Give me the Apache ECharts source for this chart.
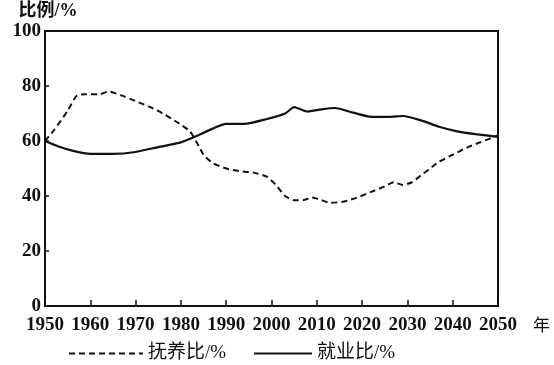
<!DOCTYPE html>
<html>
<head>
<meta charset="utf-8">
<script src="https://cdn.jsdelivr.net/npm/echarts@6/dist/echarts.min.js"></script>
<style>html,body{margin:0;padding:0;background:#fff}#c{width:554px;height:365px}</style>
</head>
<body>
<div id="c"></div>
<script>
// 抚养比/% (dashed)
const depYears = [1950,1952,1955,1957,1959,1962,1964,1967,1970,1973,1976,1979,1982,1984,1985,1987,1990,1993,1996,1999,2001,2003,2005,2007,2009,2011,2013,2016,2019,2022,2025,2027,2029,2031,2033,2035,2037,2040,2043,2046,2050];
const depValues = [60,64,71,76.5,77,77,78,76.5,74.5,72.5,70,67,63.5,58,55,52,50,49,48.5,47,44,40,38.5,38.5,39.5,38.5,37.5,38,39.5,41.5,43.5,45,44,45,47.5,50,52.5,55,57.5,59.5,62];
// 就业比/% (solid)
const empYears = [1950,1953,1956,1960,1965,1970,1975,1980,1984,1987,1990,1994,1999,2003,2005,2006,2008,2011,2014,2018,2022,2026,2029,2033,2037,2041,2045,2050];
const empValues = [60,58,56.5,55.3,55.3,56,57.8,59.5,62.2,64.5,66.2,66.2,68,70,72.3,71.8,70.7,71.5,72,70.3,68.8,68.8,69.1,67.5,65.2,63.5,62.5,61.5];
const xTicks = [1950,1960,1970,1980,1990,2000,2010,2020,2030,2040,2050];
const yTicks = [0,20,40,60,80,100];
const seriesNames = ['抚养比/%','就业比/%'];

const pair = (xs, ys) => xs.map((x, i) => [x, ys[i]]);
const font = '"Liberation Serif", "Noto Sans CJK SC", serif';
const chart = echarts.init(document.getElementById('c'));
chart.setOption({
  backgroundColor: '#fff',
  animation: false,
  grid: { left: 45, top: 31, right: 56, bottom: 59, show: true, borderColor: '#111', borderWidth: 2, backgroundColor: 'transparent' },
  xAxis: {
    type: 'value', min: xTicks[0], max: xTicks[xTicks.length - 1], interval: 10,
    name: '年', nameLocation: 'end', nameGap: 35,
    nameTextStyle: { fontFamily: font, fontSize: 17, color: '#111', verticalAlign: 'top', padding: [12, 0, 0, 0] },
    axisLine: { lineStyle: { color: '#111', width: 2 } },
    axisTick: { inside: true, length: 6, lineStyle: { color: '#111', width: 1.5 } },
    axisLabel: { fontFamily: font, fontSize: 19, fontWeight: 'bold', color: '#111', margin: 10, formatter: v => String(v) },
    splitLine: { show: false }
  },
  yAxis: {
    type: 'value', min: yTicks[0], max: yTicks[yTicks.length - 1], interval: 20,
    name: '比例/%', nameLocation: 'end', nameGap: 11,
    nameTextStyle: { fontFamily: font, fontSize: 18, fontWeight: 'bold', color: '#111', align: 'center', padding: [0, 0, 0, 6] },
    axisLine: { lineStyle: { color: '#111', width: 2 } },
    axisTick: { inside: true, length: 4, lineStyle: { color: '#111', width: 1.5 } },
    axisLabel: { fontFamily: font, fontSize: 19, fontWeight: 'bold', color: '#111', margin: 4 },
    splitLine: { show: false }
  },
  legend: [
    { data: [seriesNames[0]], left: 63, top: 339, itemWidth: 74, itemHeight: 14, itemGap: 0,
      itemStyle: { color: 'transparent', borderWidth: 0, opacity: 0 },
      textStyle: { fontFamily: font, fontSize: 19, color: '#111' } },
    { data: [seriesNames[1]], left: 248, top: 339, itemWidth: 58, itemHeight: 14, itemGap: 0,
      itemStyle: { color: 'transparent', borderWidth: 0, opacity: 0 },
      textStyle: { fontFamily: font, fontSize: 19, color: '#111' } }
  ],
  series: [
    { name: seriesNames[0], type: 'line', data: pair(depYears, depValues), smooth: 0.2, symbol: 'none',
      lineStyle: { color: '#111', width: 2, type: [6, 4] }, itemStyle: { color: '#111' } },
    { name: seriesNames[1], type: 'line', data: pair(empYears, empValues), smooth: 0.2, symbol: 'none',
      lineStyle: { color: '#111', width: 2.2 }, itemStyle: { color: '#111' } }
  ]
});
</script>
</body>
</html>
